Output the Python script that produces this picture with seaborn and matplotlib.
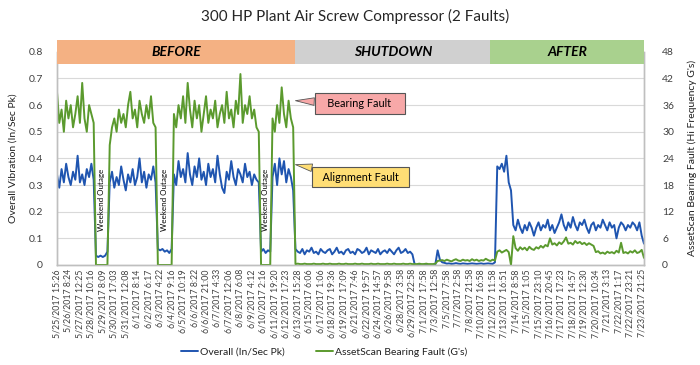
import numpy as np
import pandas as pd
import matplotlib
matplotlib.use("Agg")
import matplotlib.pyplot as plt
import seaborn as sns
from matplotlib.patches import Rectangle

# ---------------- data ----------------
tick_labels = [
    "5/25/2017 15:26", "5/26/2017 8:24", "5/27/2017 12:25", "5/28/2017 10:16",
    "5/29/2017 8:09", "5/30/2017 17:03", "5/31/2017 12:08", "6/1/2017 8:14",
    "6/2/2017 6:17", "6/3/2017 4:22", "6/4/2017 9:16", "6/5/2017 10:19",
    "6/6/2017 8:22", "6/6/2017 21:00", "6/7/2017 4:33", "6/7/2017 12:06",
    "6/8/2017 6:08", "6/9/2017 4:12", "6/10/2017 2:16", "6/11/2017 19:20",
    "6/12/2017 17:23", "6/13/2017 15:28", "6/15/2017 6:06", "6/17/2017 1:06",
    "6/18/2017 19:36", "6/19/2017 17:09", "6/21/2017 7:46", "6/22/2017 19:57",
    "6/24/2017 14:57", "6/26/2017 9:58", "6/28/2017 3:58", "6/29/2017 22:58",
    "7/1/2017 17:58", "7/3/2017 12:58", "7/5/2017 7:58", "7/7/2017 2:58",
    "7/8/2017 21:58", "7/10/2017 16:58", "7/12/2017 11:58", "7/13/2017 16:51",
    "7/14/2017 8:58", "7/15/2017 1:05", "7/15/2017 23:10", "7/16/2017 20:45",
    "7/17/2017 17:23", "7/18/2017 14:57", "7/19/2017 12:30", "7/20/2017 10:34",
    "7/21/2017 3:13", "7/22/2017 1:17", "7/22/2017 23:21", "7/23/2017 21:25",
]

# Overall vibration (In/Sec Pk), by segment
overall_run_a = [0.34, 0.29, 0.36, 0.31, 0.38, 0.33, 0.30, 0.35, 0.32, 0.41, 0.31, 0.34, 0.30, 0.36, 0.33, 0.38, 0.32]
overall_out_1 = [0.035, 0.03, 0.035, 0.03, 0.035, 0.05]
overall_run_b = [0.31, 0.35, 0.29, 0.33, 0.30, 0.37, 0.32, 0.28, 0.34, 0.31, 0.36, 0.30, 0.33, 0.40, 0.31, 0.35, 0.29, 0.34, 0.32, 0.37, 0.31]
overall_out_2 = [0.06, 0.055, 0.06, 0.05, 0.055, 0.045, 0.06]
overall_run_c = [0.34, 0.30, 0.39, 0.33, 0.36, 0.31, 0.42, 0.34, 0.30, 0.37,
                 0.33, 0.40, 0.32, 0.35, 0.30, 0.38, 0.33, 0.36, 0.31, 0.41,
                 0.34, 0.29, 0.27, 0.35, 0.32, 0.39, 0.33, 0.30, 0.36, 0.34,
                 0.31, 0.38, 0.33, 0.35, 0.30, 0.34, 0.32, 0.31]
overall_out_3 = [0.05, 0.06, 0.045, 0.055, 0.05]
overall_run_d = [0.33, 0.38, 0.30, 0.40, 0.34, 0.39, 0.31, 0.36, 0.33, 0.28]
overall_shut_1 = [0.06, 0.05, 0.045, 0.06, 0.04, 0.055, 0.05, 0.065, 0.045, 0.05,
                  0.04, 0.06, 0.05, 0.045, 0.055, 0.06, 0.04, 0.05, 0.065, 0.045,
                  0.05, 0.04, 0.055, 0.06, 0.045, 0.05, 0.04, 0.06, 0.055, 0.045,
                  0.05, 0.065, 0.04, 0.055, 0.05, 0.045, 0.06, 0.04, 0.05, 0.055,
                  0.045, 0.06, 0.05, 0.04, 0.055, 0.065, 0.045, 0.05, 0.06, 0.045,
                  0.05, 0.04]
overall_shut_2 = [0.002, 0.0, 0.001, 0.0, 0.002, 0.001, 0.0, 0.001, 0.0, 0.002]
overall_shut_3 = [0.055, 0.02, 0.01, 0.008, 0.005, 0.006, 0.004, 0.005, 0.007, 0.005,
                  0.004, 0.006, 0.005, 0.004, 0.005, 0.006, 0.005, 0.004, 0.005, 0.006,
                  0.004, 0.005, 0.006, 0.005, 0.004, 0.01]
overall_restart = [0.37, 0.36, 0.38, 0.35, 0.41, 0.31, 0.28]
overall_after = [0.15, 0.13, 0.17, 0.14, 0.12, 0.15, 0.13, 0.16, 0.14, 0.11,
                 0.14, 0.16, 0.13, 0.15, 0.14, 0.17, 0.13, 0.15, 0.12, 0.14,
                 0.16, 0.19, 0.15, 0.13, 0.16, 0.14, 0.18, 0.15, 0.13, 0.16,
                 0.15, 0.17, 0.14, 0.12, 0.15, 0.16, 0.13, 0.15, 0.14, 0.17,
                 0.15, 0.13, 0.16, 0.14, 0.15, 0.10, 0.14, 0.16, 0.15, 0.13,
                 0.15, 0.14, 0.16, 0.15, 0.13, 0.16, 0.11, 0.08]

# AssetScan bearing fault (G's), by segment
bearing_run_a = [39, 32, 35, 30, 37, 33, 36, 31, 34, 38, 32, 41, 33, 30, 36, 34, 32]
bearing_out_1 = [0, 0, 0, 0, 0, 0]
bearing_run_b = [27, 31, 33, 30, 35, 32, 34, 31, 36, 39, 33, 35, 31, 37, 34, 32, 36, 33, 38, 32, 31]
bearing_out_2 = [0, 0, 0, 0, 0, 0, 0]
bearing_run_c = [34, 31, 36, 33, 38, 32, 41, 35, 31, 37, 33, 36, 30, 34, 38, 32, 35, 33, 37, 31,
                 34, 36, 32, 39, 33, 35, 31, 37, 34, 43, 32, 36, 34, 38, 33, 35, 31, 30]
bearing_out_3 = [0, 0, 0, 0, 0]
bearing_run_d = [33, 30, 36, 32, 40, 34, 31, 37, 33, 31]
bearing_shut_1 = [0.2, 0.3, 0.2, 0.2, 0.3, 0.2, 0.2, 0.2, 0.3, 0.2,
                  0.2, 0.2, 0.3, 0.2, 0.2, 0.3, 0.2, 0.2, 0.2, 0.3,
                  0.2, 0.2, 0.3, 0.2, 0.2, 0.2, 0.3, 0.2, 0.2, 0.3,
                  0.2, 0.2, 0.2, 0.3, 0.2, 0.2, 0.3, 0.2, 0.2, 0.2,
                  0.3, 0.2, 0.2, 0.3, 0.2, 0.2, 0.2, 0.3, 0.2, 0.2,
                  0.3, 0.2]
bearing_shut_2 = [0.2, 0.2, 0.3, 0.2, 0.2, 0.3, 0.2, 0.2, 0.2, 0.3]
bearing_shut_3 = [0.9, 1.0, 1.1, 0.9, 1.2, 1.0, 0.8, 1.1, 1.3, 1.0,
                  0.9, 1.2, 1.0, 1.1, 0.9, 1.3, 1.0, 1.2, 0.9, 1.1,
                  1.0, 1.4, 1.1, 0.9, 1.2, 1.0]
bearing_restart = [3.0, 3.3, 2.8, 3.1, 3.4, 2.9, 0.0]
bearing_after = [6.5, 3.8, 3.2, 4.0, 3.5, 3.9, 3.3, 4.1, 3.6, 3.4,
                 4.0, 3.7, 4.3, 3.9, 4.5, 4.2, 6.0, 4.6, 4.9, 4.4,
                 5.1, 4.7, 5.3, 6.2, 4.8, 5.0, 4.6, 5.4, 4.9, 5.2,
                 4.7, 5.0, 4.5, 4.9, 4.6, 4.3, 2.9, 3.1, 2.6, 2.8,
                 2.5, 3.0, 2.7, 2.9, 2.6, 3.2, 2.8, 5.0, 2.7, 2.9,
                 2.6, 3.1, 2.8, 3.3, 2.7, 2.9, 3.4, 1.6]

phase_names = ["BEFORE", "SHUTDOWN", "AFTER"]
phase_edges = [0, 104, 189, 256]
phase_colors = ["#F4B183", "#D0D0D0", "#A9D18E"]

overall = (overall_run_a + overall_out_1 + overall_run_b + overall_out_2 + overall_run_c
           + overall_out_3 + overall_run_d + overall_shut_1 + overall_shut_2 + overall_shut_3
           + overall_restart + overall_after)
bearing = (bearing_run_a + bearing_out_1 + bearing_run_b + bearing_out_2 + bearing_run_c
           + bearing_out_3 + bearing_run_d + bearing_shut_1 + bearing_shut_2 + bearing_shut_3
           + bearing_restart + bearing_after)

df = pd.DataFrame({"sample": np.arange(len(overall)), "overall": overall, "bearing": bearing})

# outage spans (sample index) for the labels
o1 = len(overall_run_a)
o2 = o1 + len(overall_out_1) + len(overall_run_b)
o3 = o2 + len(overall_out_2) + len(overall_run_c)
outage_centers = [o1 + (len(overall_out_1) - 1) / 2,
                  o2 + (len(overall_out_2) - 1) / 2,
                  o3 + (len(overall_out_3) - 1) / 2]

# ---------------- style ----------------
sns.set_theme(style="white")
plt.rcParams["font.family"] = ["Lato", "DejaVu Sans"]
text_c = "#404040"

fig = plt.figure(figsize=(7.0, 3.65), dpi=100)
ax = fig.add_axes([0.0814, 0.274, 0.8386, 0.584])
ax2 = ax.twinx()

blue = "#1F55B0"
green = "#5B9A2E"
sns.lineplot(data=df, x="sample", y="overall", ax=ax, color=blue, lw=1.4,
             label="Overall (In/Sec Pk)", legend=False)
sns.lineplot(data=df, x="sample", y="bearing", ax=ax2, color=green, lw=1.4,
             label="AssetScan Bearing Fault (G's)", legend=False)

n = len(overall)
ax.set_xlim(0, n - 1)
ax.set_ylim(0, 0.8)
ax2.set_ylim(0, 48)
ax.set_yticks(np.arange(0, 0.81, 0.1))
ax.set_yticklabels(["0", "0.1", "0.2", "0.3", "0.4", "0.5", "0.6", "0.7", "0.8"])
ax2.set_yticks(np.arange(0, 49, 6))
step = 5
ax.set_xticks(np.arange(len(tick_labels)) * step)
ax.set_xticklabels(tick_labels, rotation=90, fontsize=6.3, color=text_c)
ax.tick_params(axis="x", length=0, pad=3)
ax.tick_params(axis="y", length=0, pad=10, labelsize=7.5, labelcolor=text_c)
ax2.tick_params(axis="y", length=0, pad=13, labelsize=7.5, labelcolor=text_c)
ax.grid(axis="y", color="#D9D9D9", lw=0.8)
ax.set_axisbelow(True)
ax.set_xlabel("")
ax.set_ylabel("Overall Vibration (In/Sec Pk)", fontsize=7.5, color="#202020", labelpad=8)
ax2.set_ylabel("AssetScan Bearing Fault (Hi Frequency G's)", fontsize=7.5, color="#202020", labelpad=10)

for a in (ax, ax2):
    a.spines["top"].set_visible(False)
    for s in ["left", "right", "bottom"]:
        a.spines[s].set_color("#BFBFBF")
        a.spines[s].set_linewidth(1.0)

# phase header bands
for name, x0, x1, c in zip(phase_names, phase_edges[:-1], phase_edges[1:], phase_colors):
    ax2.add_patch(Rectangle((x0, 45.3), x1 - x0, 5.4, facecolor=c, edgecolor="none",
                            clip_on=False, zorder=5))
    ax2.text((x0 + x1) / 2, 48.0, name, ha="center", va="center", fontsize=10,
             fontweight="bold", fontstyle="italic", color="black", zorder=6, clip_on=False)

# weekend outage labels
for xc in outage_centers:
    ax.text(xc, 0.245, "Weekend Outage", rotation=90, ha="center", va="center",
            fontsize=5.8, color="black")

# callouts
ax2.annotate("   Bearing Fault   ", xy=(104, 37.0), xytext=(132, 36.3),
             ha="center", va="center", fontsize=7.8, color="black", zorder=7,
             bbox=dict(boxstyle="square,pad=0.45", fc="#F7A8A8", ec="#555555", lw=0.8),
             arrowprops=dict(arrowstyle="wedge,tail_width=0.7,shrink_factor=0.5",
                             fc="#F7A8A8", ec="#555555", lw=0.6, shrinkA=0, shrinkB=0))
ax2.annotate("  Alignment Fault  ", xy=(104, 22.6), xytext=(132.5, 19.8),
             ha="center", va="center", fontsize=7.8, color="black", zorder=7,
             bbox=dict(boxstyle="square,pad=0.45", fc="#FFDE75", ec="#555555", lw=0.8),
             arrowprops=dict(arrowstyle="wedge,tail_width=0.7,shrink_factor=0.5",
                             fc="#FFDE75", ec="#555555", lw=0.6, shrinkA=0, shrinkB=0))

fig.suptitle("300 HP Plant Air Screw Compressor (2 Faults)", x=0.507, y=0.975,
             fontsize=11, color="#262626")

h1, l1 = ax.get_legend_handles_labels()
h2, l2 = ax2.get_legend_handles_labels()
fig.legend(h1 + h2, l1 + l2, loc="center", bbox_to_anchor=(0.463, 0.036), ncol=2,
           frameon=False, fontsize=7.5, handlelength=1.6, handletextpad=0.2,
           columnspacing=3.0, labelcolor="#202020")

fig.savefig("out.png", dpi=100)
